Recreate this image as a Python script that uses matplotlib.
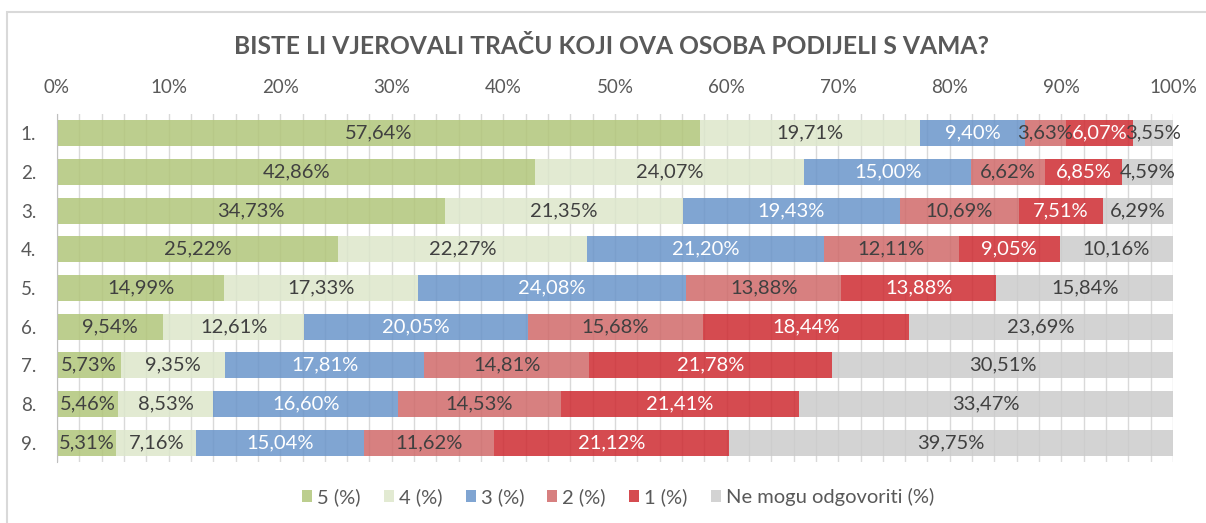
import matplotlib
matplotlib.use("Agg")
import matplotlib.pyplot as plt
from matplotlib.ticker import MultipleLocator
from matplotlib.patches import Rectangle

plt.rcParams['font.family'] = ['Lato', 'DejaVu Sans']

rows = ['1.', '2.', '3.', '4.', '5.', '6.', '7.', '8.', '9.']
series_names = ['5 (%)', '4 (%)', '3 (%)', '2 (%)', '1 (%)', 'Ne mogu odgovoriti (%)']
s5 = [57.64, 42.86, 34.73, 25.22, 14.99, 9.54, 5.73, 5.46, 5.31]
s4 = [19.71, 24.07, 21.35, 22.27, 17.33, 12.61, 9.35, 8.53, 7.16]
s3 = [9.40, 15.00, 19.43, 21.20, 24.08, 20.05, 17.81, 16.60, 15.04]
s2 = [3.63, 6.62, 10.69, 12.11, 13.88, 15.68, 14.81, 14.53, 11.62]
s1 = [6.07, 6.85, 7.51, 9.05, 13.88, 18.44, 21.78, 21.41, 21.12]
ne = [3.55, 4.59, 6.29, 10.16, 15.84, 23.69, 30.51, 33.47, 39.75]

colors = ['#B1C67A', '#DDE7CB', '#6A95CA', '#D06A6A', '#CE2B31', '#CCCCCC']
text_colors = ['#404040', '#404040', 'white', '#404040', 'white', '#404040']

fig = plt.figure(figsize=(12.06, 5.23), dpi=100)
ax = fig.add_axes([57 / 1206, 1 - 462 / 523, (1173 - 57) / 1206, (462 - 114) / 523])

# chart border (left + top only visible)
fig.patches.append(Rectangle((7 / 1206, -0.5), 2, 1 - 12 / 523 + 0.5, transform=fig.transFigure,
                             fill=False, edgecolor='#D9D9D9', lw=1.5))

y = list(range(len(rows)))
left = [0.0] * len(rows)
for vals, name, col, tcol in zip([s5, s4, s3, s2, s1, ne], series_names, colors, text_colors):
    ax.barh(y, vals, left=left, height=0.68, color=col, alpha=0.85, label=name, zorder=2)
    for i, v in enumerate(vals):
        ax.text(left[i] + v / 2, i, f"{v:.2f}".replace('.', ',') + '%', ha='center', va='center',
                color=tcol, fontsize=14.5, zorder=3)
    left = [a + b for a, b in zip(left, vals)]

ax.set_xlim(0, 100)
ax.set_ylim(len(rows) - 0.5, -0.5)
ax.xaxis.set_major_locator(MultipleLocator(10))
ax.xaxis.set_minor_locator(MultipleLocator(2))
ax.xaxis.tick_top()
ax.set_xticklabels([f"{int(t)}%" for t in ax.get_xticks()])
ax.tick_params(axis='x', which='both', length=0, labelsize=13.5, labelcolor='#595959', pad=13)
ax.set_yticks(y)
ax.set_yticklabels(rows)
ax.tick_params(axis='y', length=0, labelsize=13.5, labelcolor='#595959', pad=15)
ax.grid(axis='x', which='both', color='#D9D9D9', lw=1, zorder=0)
ax.set_axisbelow(True)
for s in ['top', 'right', 'bottom']:
    ax.spines[s].set_visible(False)
ax.spines['left'].set_color('#BFBFBF')

fig.text(611 / 1206, 1 - 46 / 523, 'BISTE LI VJEROVALI TRAČU KOJI OVA OSOBA PODIJELI S VAMA?',
         ha='center', va='center', fontsize=17.7, fontweight='bold', color='#595959')

fig.legend(loc='center', bbox_to_anchor=(618 / 1206, 1 - 497 / 523), ncol=6, frameon=False,
           handlelength=0.5, handleheight=0.5, handletextpad=0.25, columnspacing=1.15,
           labelcolor='#595959', prop={'size': 14.5})

fig.savefig('out.png', dpi=100)
